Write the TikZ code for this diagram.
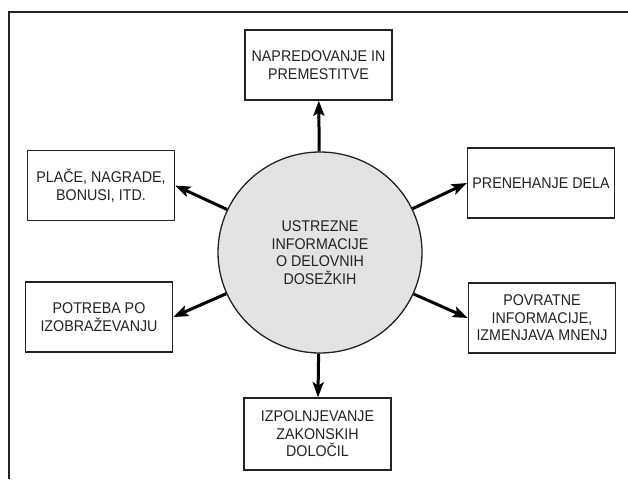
\documentclass[tikz,border=0pt]{standalone}
\usepackage{fontspec}
\setmainfont{Liberation Sans}[FakeStretch=0.92]
\usetikzlibrary{arrows.meta,shapes.geometric}
\definecolor{ink}{RGB}{35,35,35}
\definecolor{discfill}{RGB}{227,227,227}
\begin{document}
\begin{tikzpicture}[x=1pt,y=-1pt,
  outcome/.style={draw=ink,line width=1.4pt,fill=white,minimum width=147pt,minimum height=70pt,
    align=center,inner sep=2pt,font=\fontsize{15.5}{17.5}\selectfont,text=ink},
  hub/.style={ellipse,draw=ink,line width=1.3pt,fill=discfill,minimum width=204pt,minimum height=201pt,
    align=center,inner sep=0pt,font=\fontsize{15.5}{17.5}\selectfont,text=ink},
  flow/.style={line width=3pt,black,-{Stealth[length=15pt,width=11pt,inset=3pt]}},
  frame/.style={line width=1.8pt,ink}]
\useasboundingbox (0,0) rectangle (628,479);
% open frame: top and left rules only
\coordinate (fl) at (9,479);
\coordinate (fc) at (9,12);
\coordinate (fr) at (628,12);
\draw[frame] (fl) -- (fc) -- (fr);
% central node
\node[hub] (c) at (320,252.5) {USTREZNE\\INFORMACIJE\\O DELOVNIH\\DOSEŽKIH};
% surrounding outcomes
\node[outcome] (n)  at (318.5,65)  {NAPREDOVANJE IN\\PREMESTITVE};
\node[outcome] (nw) at (101,185.5) {PLAČE, NAGRADE,\\BONUSI, ITD.};
\node[outcome] (ne) at (541,183)   {PRENEHANJE DELA};
\node[outcome] (sw) at (99,317)    {POTREBA PO\\IZOBRAŽEVANJU};
\node[outcome] (se) at (542,318)   {POVRATNE\\INFORMACIJE,\\IZMENJAVA MNENJ};
\node[outcome,minimum height=72pt] (s) at (317.5,434) {IZPOLNJEVANJE\\ZAKONSKIH\\DOLOČIL};
% connectors
\draw[flow] (c) -- (n);
\draw[flow] (c) -- (nw.east);
\draw[flow] (c) -- (ne.west);
\draw[flow] (c) -- (sw.east);
\draw[flow] (c) -- (se.west);
\draw[flow] (c) -- (s);
\end{tikzpicture}
\end{document}
